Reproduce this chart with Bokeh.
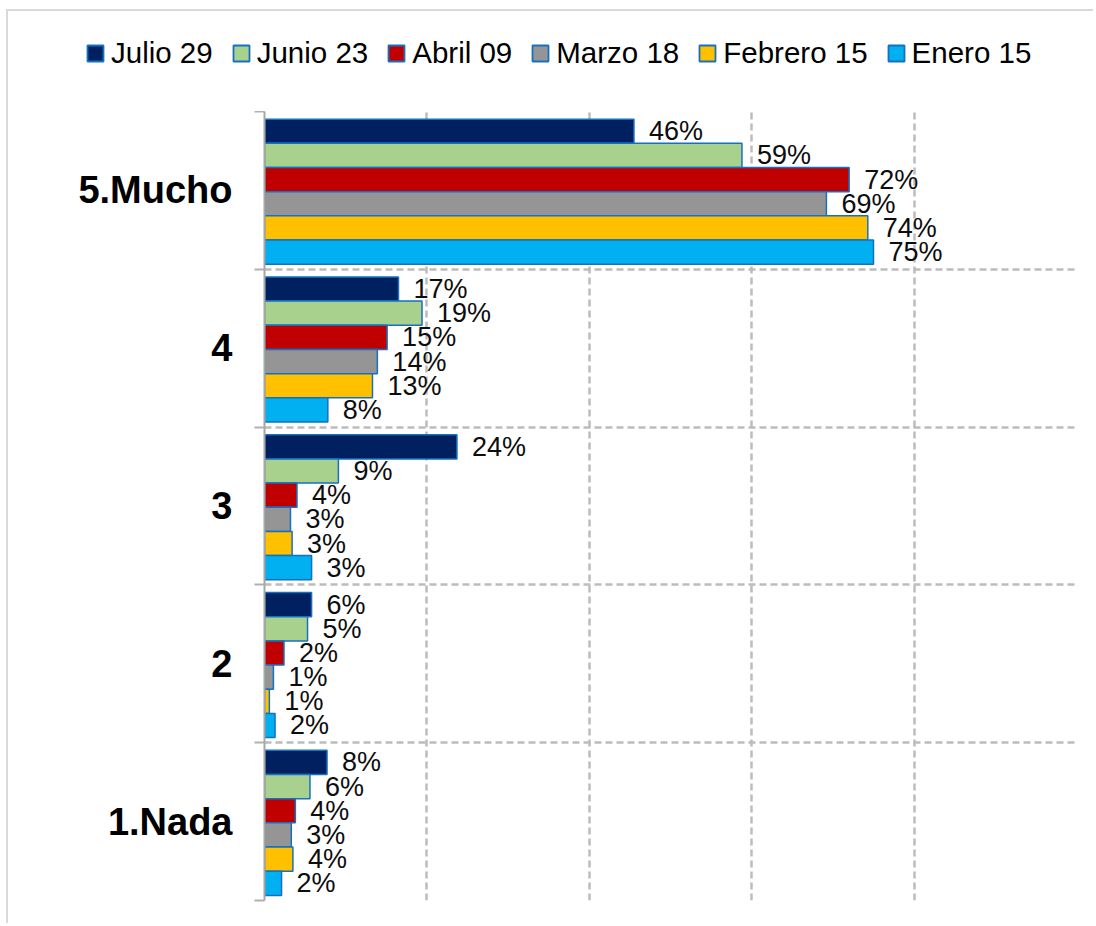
from bokeh.plotting import figure
from bokeh.models import Range1d, FixedTicker, Legend, LegendItem, ColumnDataSource
from bokeh.core.properties import value
from bokeh.embed import file_html
from bokeh.resources import INLINE

categories = ["1.Nada", "2", "3", "4", "5.Mucho"]
series = ["Julio 29", "Junio 23", "Abril 09", "Marzo 18", "Febrero 15", "Enero 15"]
colors = ["#002060", "#A9D18E", "#C00000", "#959595", "#FFC000", "#00B0F0"]

# bar lengths (share) per series, categories ordered 1.Nada .. 5.Mucho
julio_vals = [0.077, 0.058, 0.237, 0.165, 0.455]
junio_vals = [0.056, 0.053, 0.091, 0.194, 0.588]
abril_vals = [0.038, 0.024, 0.040, 0.151, 0.720]
marzo_vals = [0.033, 0.011, 0.032, 0.139, 0.692]
febrero_vals = [0.035, 0.006, 0.034, 0.133, 0.743]
enero_vals = [0.021, 0.013, 0.058, 0.078, 0.750]

# data labels (percent) as printed on the chart
julio_labels = [8, 6, 24, 17, 46]
junio_labels = [6, 5, 9, 19, 59]
abril_labels = [4, 2, 4, 15, 72]
marzo_labels = [3, 1, 3, 14, 69]
febrero_labels = [4, 1, 3, 13, 74]
enero_labels = [2, 2, 3, 8, 75]

all_vals = [julio_vals, junio_vals, abril_vals, marzo_vals, febrero_vals, enero_vals]
all_labels = [julio_labels, junio_labels, abril_labels, marzo_labels, febrero_labels, enero_labels]

FONT = "Liberation Sans"
BAR_H = 0.1532
GROUP_SHIFT = -0.008
OUTLINE = "#1570c0"
BORDER = "2px solid #d9d9d9"
W = 1087

# ---- legend strip (separate root, on top) ----
lg = figure(width=W, height=102, output_backend="svg", toolbar_location=None,
            x_range=Range1d(0, 1), y_range=Range1d(0, 1),
            x_axis_location=None, y_axis_location=None,
            min_border_left=0, min_border_right=0, min_border_top=0, min_border_bottom=0)
lg.outline_line_color = None
lg.grid.visible = False
lg.styles = {"margin-left": "6px", "margin-top": "9px",
             "border-left": BORDER, "border-top": BORDER}

items = []
for name, col in zip(series, colors):
    swatch = ColumnDataSource(dict(y=[-1.0], v=[0.0]))  # off-screen swatch source for legend only
    r = lg.hbar(y="y", right="v", left=0, height=0.1, source=swatch,
                fill_color=col, line_color=OUTLINE, line_width=1.8)
    items.append(LegendItem(label=name, renderers=[r]))

legend = Legend(items=items, orientation="horizontal", location=(77, 43),
                border_line_color=None, background_fill_alpha=0,
                padding=0, margin=0, spacing=18, label_standoff=6,
                glyph_width=20, glyph_height=20,
                label_text_font=FONT, label_text_font_size="29.5px", label_text_color="black")
lg.add_layout(legend, "center")

# ---- main chart ----
p = figure(width=W, height=812, output_backend="svg", toolbar_location=None,
           x_range=Range1d(0, 1.0), y_range=Range1d(0, 5),
           x_axis_location=None,
           min_border_left=256, min_border_right=W - 256 - 812, min_border_top=0, min_border_bottom=23)
p.outline_line_color = None
p.styles = {"margin-left": "6px", "border-left": BORDER}

p.xgrid.ticker = FixedTicker(ticks=[0.2, 0.4, 0.6, 0.8, 1.0])
p.ygrid.ticker = FixedTicker(ticks=[0, 1, 2, 3, 4, 5])
for g in (p.xgrid, p.ygrid):
    g.grid_line_color = "#bcbcbc"
    g.grid_line_width = 2.5
    g.grid_line_dash = "7 4"

yax = p.yaxis[0]
yax.ticker = FixedTicker(ticks=[i + 0.5 for i in range(5)], minor_ticks=[0, 1, 2, 3, 4, 5])
yax.major_label_overrides = {i + 0.5: c for i, c in enumerate(categories)}
yax.major_label_text_font = FONT
yax.major_label_text_font_style = "bold"
yax.major_label_text_font_size = "38px"
yax.major_label_text_color = "black"
yax.major_label_standoff = 22
yax.major_tick_line_color = None
yax.minor_tick_line_color = "#b0b0b0"
yax.minor_tick_line_width = 2
yax.minor_tick_out = 10
yax.minor_tick_in = 0
yax.axis_line_color = "#a6a6a6"
yax.axis_line_width = 2

for j, (name, col, vals, labs) in enumerate(zip(series, colors, all_vals, all_labels)):
    ys = [i + 0.5 + GROUP_SHIFT + (2.5 - j) * BAR_H for i in range(len(categories))]
    src = ColumnDataSource(dict(y=ys, v=vals, t=[f"{l}%" for l in labs]))
    p.hbar(y="y", right="v", left=0, height=BAR_H, source=src,
           fill_color=col, line_color=OUTLINE, line_width=1.5)
    p.text(x="v", y="y", text="t", source=src, x_offset=15,
           text_align="left", text_baseline="middle",
           text_font=value(FONT), text_font_size="27px", text_color="#0d0d0d")

open("out.html", "w").write(file_html([lg, p], INLINE))
